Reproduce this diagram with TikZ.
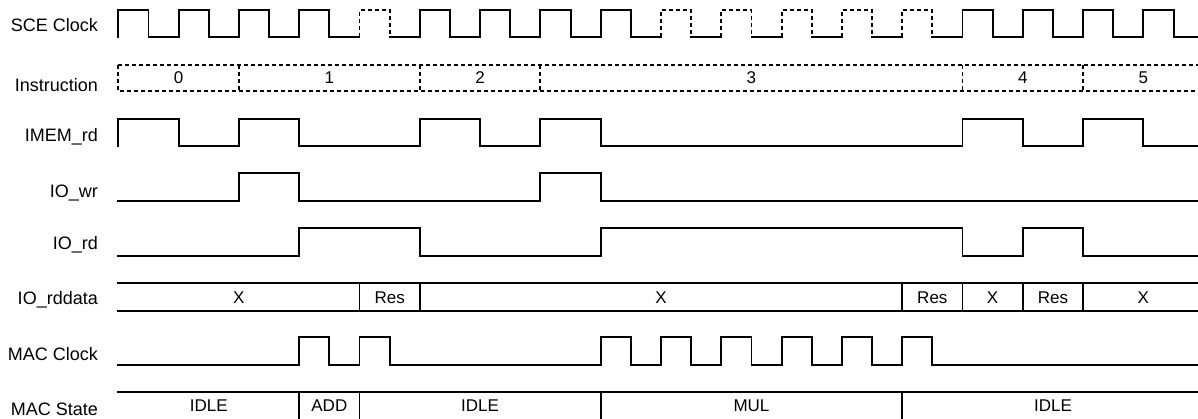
\documentclass[tikz,border=0pt]{standalone}
\usepackage{fontspec}
\setmainfont{Liberation Sans}
\begin{document}
\begin{tikzpicture}[x=1pt,y=-1pt,
  sig/.style={line width=1.9pt, line join=miter, line cap=rect},
  dsig/.style={line width=1.9pt, dash pattern=on 4pt off 3pt},
  lbl/.style={anchor=base east, font=\fontsize{18}{20}\selectfont, inner sep=0pt},
  val/.style={anchor=base, font=\fontsize{17}{19}\selectfont, inner sep=0pt}]
\useasboundingbox (0,0) rectangle (1198,418);
\clip (0,0) rectangle (1198,418);
% signal names
\node[lbl] (nSCE) at (98,31.5) {SCE Clock};
\node[lbl] (nINS) at (98,91) {Instruction};
\node[lbl] (nIMEM) at (98,141.7) {IMEM\_rd};
\node[lbl] (nIOWR) at (98,197.3) {IO\_wr};
\node[lbl] (nIORD) at (98,249) {IO\_rd};
\node[lbl] (nIODATA) at (98,304) {IO\_rddata};
\node[lbl] (nMACC) at (98,360) {MAC Clock};
\node[lbl] (nMACS) at (98,415.5) {MAC State};
\begin{scope}[xshift=118.3pt, x=30.15pt]
% SCE Clock
\draw[sig] (0,37)--(0,10)--(1,10)--(1,37)--(2,37)--(2,10)--(3,10)--(3,37)--(4,37)--(4,10)--(5,10)--(5,37)--(6,37)--(6,10)--(7,10)--(7,37)--(8,37);
\draw[dsig] (8,37)--(8,10)--(9,10)--(9,37);
\draw[sig] (9,37)--(10,37)--(10,10)--(11,10)--(11,37)--(12,37)--(12,10)--(13,10)--(13,37)--(14,37)--(14,10)--(15,10)--(15,37)--(16,37)--(16,10)--(17,10)--(17,37)--(18,37);
\foreach \t in {18,20,22,24,26} \draw[dsig] (\t,37)--(\t,10)--(\t+1,10)--(\t+1,37);
\foreach \t in {19,21,23,25} \draw[sig] (\t,37)--(\t+1,37);
\draw[sig] (27,37)--(28,37)--(28,10)--(29,10)--(29,37)--(30,37)--(30,10)--(31,10)--(31,37)--(32,37)--(32,10)--(33,10)--(33,37)--(34,37)--(34,10)--(35,10)--(35,37)--(36,37);
% Instruction
\draw[dsig] (0,65) rectangle (36,91);
\foreach \t in {4,10,14,28,32} \draw[dsig] (\t,65)--(\t,91);
\node[val] (i0) at (2,83.3) {0};
\node[val] (i1) at (7,83.3) {1};
\node[val] (i2) at (12,83.3) {2};
\node[val] (i3) at (21,83.3) {3};
\node[val] (i4) at (30,83.3) {4};
\node[val] (i5) at (34,83.3) {5};
% IMEM_rd
\draw[sig] (0,146)--(0,119)--(2,119)--(2,146)--(4,146)--(4,119)--(6,119)--(6,146)--(10,146)--(10,119)--(12,119)--(12,146)--(14,146)--(14,119)--(16,119)--(16,146)--(28,146)--(28,119)--(30,119)--(30,146)--(32,146)--(32,119)--(34,119)--(34,146)--(36,146);
% IO_wr
\draw[sig] (0,201)--(4,201)--(4,173)--(6,173)--(6,201)--(14,201)--(14,173)--(16,173)--(16,201)--(36,201);
% IO_rd
\draw[sig] (0,256)--(6,256)--(6,228)--(10,228)--(10,256)--(16,256)--(16,228)--(28,228)--(28,256)--(30,256)--(30,228)--(32,228)--(32,256)--(36,256);
% IO_rddata
\draw[sig] (0,283)--(36,283);
\draw[sig] (0,311)--(36,311);
\foreach \t in {8,10,26,28,30,32} \draw[sig] (\t,283)--(\t,311);
\node[val] (d0) at (4,303.5) {X};
\node[val] (d1) at (9,303.5) {Res};
\node[val] (d2) at (18,303.5) {X};
\node[val] (d3) at (27,303.5) {Res};
\node[val] (d4) at (29,303.5) {X};
\node[val] (d5) at (31,303.5) {Res};
\node[val] (d6) at (34,303.5) {X};
% MAC Clock
\draw[sig] (0,365)--(6,365)--(6,337)--(7,337)--(7,365)--(8,365)--(8,337)--(9,337)--(9,365)--(16,365)--(16,337)--(17,337)--(17,365)--(18,365)--(18,337)--(19,337)--(19,365)--(20,365)--(20,337)--(21,337)--(21,365)--(22,365)--(22,337)--(23,337)--(23,365)--(24,365)--(24,337)--(25,337)--(25,365)--(26,365)--(26,337)--(27,337)--(27,365)--(36,365);
% MAC State
\draw[sig] (0,392)--(36,392);
\foreach \t in {6,8,16,26} \draw[sig] (\t,392)--(\t,430);
\node[val] (s0) at (3,411.5) {IDLE};
\node[val] (s1) at (7,411.5) {ADD};
\node[val] (s2) at (12,411.5) {IDLE};
\node[val] (s3) at (21,411.5) {MUL};
\node[val] (s4) at (31,411.5) {IDLE};
\end{scope}
\end{tikzpicture}
\end{document}
